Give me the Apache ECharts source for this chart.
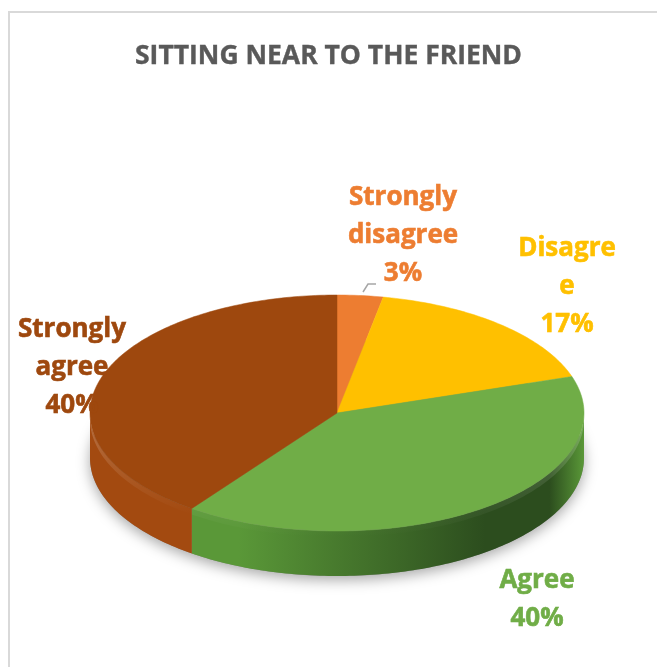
<!DOCTYPE html>
<html lang="en">
<head>
    <meta charset="UTF-8">
    <title>Sitting near to the friend</title>
    <script src="https://cdn.jsdelivr.net/npm/echarts@6/dist/echarts.min.js"></script>
    <style>
        body { margin: 0; background: #fff; }
    </style>
</head>
<body>
<div id="main" style="width: 657px;height:667px;"></div>

<script type="text/javascript">
    // data
    var categories = ['Strongly disagree', 'Disagree', 'Agree', 'Strongly agree'];
    var labelNames = ['Strongly\ndisagree', 'Disagre\ne', 'Agree', 'Strongly\nagree'];
    var values = [3, 17, 40, 40];

    // look
    var colors = ['#ED7D31', '#FFC000', '#70AD47', '#9E480E'];
    // side wall shades: light / dark, across the pie width
    var sideColors = [
        ['#c8611f', '#a04d14'],
        ['#d9a300', '#a57b00'],
        ['#5a9838', '#2c4d1e'],
        ['#a34a10', '#8b3d0b']
    ];
    var labelPos = [[403, 236], [567, 287], [537, 600], [72, 368]];

    var cx = 337, cy = 413, rx = 247, ry = 118, depth = 45;
    var total = values.reduce(function (a, b) { return a + b; }, 0);
    var cum = [0];
    values.forEach(function (v, i) { cum.push(cum[i] + v); });

    function pt(t, dy) {
        return [cx + rx * Math.sin(t), cy - ry * Math.cos(t) + (dy || 0)];
    }
    function arc(a0, a1, dy) {
        var n = Math.max(2, Math.ceil((a1 - a0) / (Math.PI / 180)));
        var pts = [];
        for (var k = 0; k <= n; k++) pts.push(pt(a0 + (a1 - a0) * k / n, dy));
        return pts;
    }

    function renderItem(params, api) {
        var i = params.dataIndex;
        var a0 = cum[i] / total * Math.PI * 2;
        var a1 = (cum[i] + api.value(0)) / total * Math.PI * 2;
        var children = [];

        // side wall, only the front half shows
        var s0 = Math.max(a0, Math.PI / 2), s1 = Math.min(a1, Math.PI * 1.5);
        if (s1 > s0) {
            var side = arc(s0, s1, 0).concat(arc(s0, s1, depth).reverse());
            children.push({
                type: 'polygon',
                shape: { points: side },
                style: {
                    fill: {
                        type: 'linear', global: true,
                        x: cx - rx, y: 0, x2: cx + rx, y2: 0,
                        colorStops: [
                            { offset: 0, color: sideColors[i][0] },
                            { offset: 0.3, color: sideColors[i][0] },
                            { offset: 0.8, color: sideColors[i][1] },
                            { offset: 0.93, color: sideColors[i][1] },
                            { offset: 1, color: sideColors[i][0] }
                        ]
                    }
                }
            });
            // light bevel along the rim
            var bevel = arc(s0, s1, 0).concat(arc(s0, s1, 6).reverse());
            children.push({
                type: 'polygon',
                shape: { points: bevel },
                style: {
                    fill: {
                        type: 'linear', x: 0, y: 0, x2: 0, y2: 1,
                        colorStops: [
                            { offset: 0, color: 'rgba(255,255,255,0.22)' },
                            { offset: 1, color: 'rgba(255,255,255,0)' }
                        ]
                    }
                }
            });
        }

        // top face
        children.push({
            type: 'polygon',
            shape: { points: [[cx, cy]].concat(arc(a0, a1, 0)) },
            style: { fill: colors[i], stroke: colors[i], lineWidth: 0.5 }
        });

        var pct = Math.round(api.value(0) / total * 100) + '%';
        children.push({
            type: 'text',
            x: labelPos[i][0],
            y: labelPos[i][1],
            style: {
                text: labelNames[i] + '\n' + pct,
                font: 'bold 26px "Open Sans"',
                fill: colors[i],
                stroke: colors[i],
                lineWidth: 0.6,
                align: 'center',
                verticalAlign: 'middle',
                lineHeight: 38
            }
        });
        return { type: 'group', children: children };
    }

    var myChart = echarts.init(document.getElementById('main'));

    var option = {
        animation: false,
        title: {
            text: 'SITTING NEAR TO THE FRIEND',
            left: 'center',
            top: 38,
            textStyle: {
                fontFamily: 'Open Sans',
                fontWeight: 'bold',
                fontSize: 26.5,
                color: '#595959',
                textBorderColor: '#595959',
                textBorderWidth: 0.4
            }
        },
        graphic: [
            {
                type: 'rect',
                shape: { x: 9, y: 12, width: 700, height: 700 },
                style: { fill: 'none', stroke: '#d9d9d9', lineWidth: 2 }
            },
            {
                type: 'ellipse',
                z: -1,
                shape: { cx: cx, cy: cy + depth, rx: rx, ry: ry },
                style: {
                    fill: '#888',
                    shadowBlur: 14,
                    shadowOffsetY: 4,
                    shadowColor: 'rgba(0,0,0,0.35)'
                }
            },
            {
                type: 'polyline',
                shape: { points: [[363, 292], [368, 284], [376, 284]] },
                style: { stroke: '#a6a6a6', lineWidth: 1.5, fill: null }
            }
        ],
        series: [{
            type: 'custom',
            coordinateSystem: 'none',
            z: 5,
            renderItem: renderItem,
            data: values.map(function (v, i) { return { name: categories[i], value: [v] }; })
        }]
    };
    myChart.setOption(option);
</script>
</body>
</html>
